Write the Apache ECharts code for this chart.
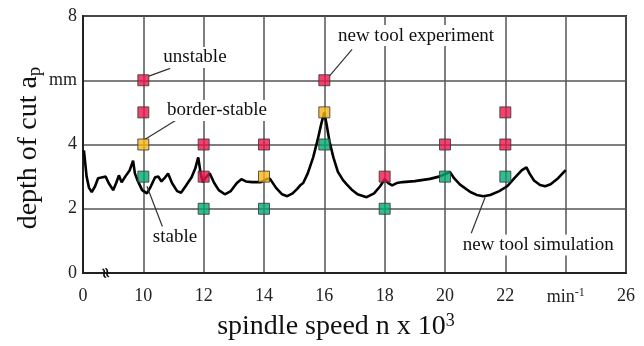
<!DOCTYPE html>
<html><head><meta charset="utf-8">
<script src="https://cdn.jsdelivr.net/npm/echarts@6/dist/echarts.min.js"></script>
<style>html,body{margin:0;padding:0;background:#fff}#c{width:644px;height:346px}</style>
</head><body><div id="c"></div>
<script>
// x axis: position 8 is labelled "0" (axis break), 24 labelled "min^-1"
const xTickLabels = {8:'0',10:'10',12:'12',14:'14',16:'16',18:'18',20:'20',22:'22',24:'MIN',26:'26'};
const yTickLabels = {0:'0',2:'2',4:'4',6:'mm',8:'8'};

const unstablePts = [[10,6],[10,5],[12,4],[12,3],[14,4],[16,6],[18,3],[20,4],[22,5],[22,4]];
const borderPts = [[10,4],[14,3],[16,5]];
const stablePts = [[10,3],[12,2],[14,2],[16,4],[18,2],[20,3],[22,3]];

const simX = [8.03,8.12,8.2,8.29,8.4,8.5,8.65,8.75,8.85,9.0,9.1,9.19,9.28,9.4,9.55,9.66,9.72,9.8,9.96,10.12,10.25,10.39,10.5,10.6,10.7,10.82,10.95,11.12,11.25,11.4,11.6,11.72,11.82,11.9,11.97,12.05,12.2,12.35,12.5,12.7,12.9,13.1,13.25,13.4,13.6,13.9,14.1,14.2,14.4,14.6,14.77,14.95,15.1,15.2,15.3,15.45,15.63,15.78,15.9,16.0,16.08,16.17,16.3,16.45,16.62,16.75,16.9,17.1,17.4,17.65,17.85,18.0,18.12,18.25,18.4,18.6,19.0,19.5,19.8,20.17,20.3,20.5,20.84,21.05,21.27,21.5,21.8,22.06,22.3,22.55,22.7,22.8,22.95,23.15,23.32,23.5,23.75,24.0];
const simY = [3.82,3.0,2.65,2.52,2.7,2.95,2.98,3.0,2.8,2.58,2.8,3.04,2.82,3.0,3.2,3.5,3.1,2.9,2.58,2.48,2.7,2.98,3.0,2.85,2.95,3.1,2.8,2.55,2.5,2.7,2.98,3.25,3.6,3.1,2.83,2.95,3.1,2.8,2.58,2.45,2.55,2.8,2.92,2.85,2.83,2.83,2.93,2.93,2.65,2.45,2.39,2.48,2.62,2.73,2.8,3.1,3.6,4.15,4.65,5.0,4.6,4.1,3.6,3.15,2.89,2.75,2.6,2.45,2.36,2.48,2.7,2.92,2.8,2.73,2.8,2.83,2.86,2.93,3.0,3.14,2.95,2.75,2.52,2.43,2.39,2.43,2.55,2.7,2.95,3.2,3.29,3.1,2.88,2.74,2.7,2.76,2.95,3.2];

// annotations: text, text centre (data), leader from, leader to (data)
const annTexts = ['unstable','border-stable','new tool experiment','stable','new tool simulation'];
const annPos = [[11.71,6.71],[12.44,5.06],[19.04,7.39],[11.05,1.12],[23.09,0.87]];
const annFrom = [[10.16,6.12],[10.06,4.16],[16.16,6.12],[10.12,2.70],[21.33,2.36]];
const annTo = [[10.89,6.37],[11.12,4.78],[16.92,6.96],[10.65,1.40],[20.87,1.24]];

const FONT = '"Liberation Serif","DejaVu Serif",serif';
const chart = echarts.init(document.getElementById('c'), null, {renderer:'canvas'});
const sym = (color) => ({type:'scatter', symbol:'rect', symbolSize:11, z:5,
  itemStyle:{color:color, borderColor:'#333', borderWidth:1}});
chart.setOption({
  animation:false,
  backgroundColor:'#fff',
  grid:{left:83, right:18, top:16, bottom:73, show:true, borderColor:'#222', borderWidth:2, backgroundColor:'transparent'},
  xAxis:{type:'value', min:8, max:26, interval:2,
    axisLine:{show:true, lineStyle:{color:'#222', width:2}}, axisTick:{show:false},
    splitLine:{show:true, lineStyle:{color:'#555', width:1.5}},
    axisLabel:{margin:14, color:'#222', fontFamily:FONT, fontSize:18,
      formatter:(v)=> xTickLabels[v]==='MIN' ? '{a|min}{s|-1}' : (xTickLabels[v] ?? ''),
      rich:{a:{fontFamily:FONT, fontSize:18, color:'#222'}, s:{fontFamily:FONT, fontSize:12, color:'#222', verticalAlign:'top', padding:[0,0,8,0]}}}
  },
  yAxis:{type:'value', min:0, max:8, interval:2,
    axisLine:{show:true, lineStyle:{color:'#222', width:2}}, axisTick:{show:false},
    splitLine:{show:true, lineStyle:{color:'#555', width:1.5}},
    axisLabel:{margin:6, color:'#222', fontFamily:FONT, fontSize:18, formatter:(v)=> yTickLabels[v] ?? ''}
  },
  series:[
    {type:'line', data: simX.map((x,i)=>[x, simY[i]]), showSymbol:false, symbol:'none', z:3,
      lineStyle:{color:'#000', width:2.6}},
    Object.assign(sym('#e8164c'), {data:unstablePts}),
    Object.assign(sym('#f7b516'), {data:borderPts}),
    Object.assign(sym('#04a874'), {data:stablePts})
  ]
});

const px = (p)=> chart.convertToPixel({gridIndex:0}, p);
const graphics = [];
annTexts.forEach((t,i)=>{
  const a = px(annFrom[i]), b = px(annTo[i]), c = px(annPos[i]);
  graphics.push({type:'line', z:4, shape:{x1:a[0],y1:a[1],x2:b[0],y2:b[1]}, style:{stroke:'#333', lineWidth:1.2}});
  graphics.push({type:'text', z:6, x:c[0], y:c[1], style:{text:t, fontFamily:FONT, fontSize:19, fill:'#111',
    align:'center', verticalAlign:'middle', backgroundColor:'#fff', padding:[1,4]}});
});
// axis break mark on x axis
const br = px([8.72, 0]);
graphics.push({type:'text', z:7, x:br[0], y:br[1], rotation:-Math.PI/2.3, style:{text:'≈', fontFamily:'"DejaVu Sans",sans-serif', fontSize:15, fontWeight:'bold', fill:'#111', align:'center', verticalAlign:'middle'}});
// axis names
graphics.push({type:'text', x:29, y:148, rotation:Math.PI/2, style:{text:'{a|depth of cut a}{s|p}', align:'center', verticalAlign:'middle',
  rich:{a:{fontFamily:FONT, fontSize:28, fill:'#111'}, s:{fontFamily:FONT, fontSize:19, fill:'#111', padding:[12,0,0,0]}}}});
graphics.push({type:'text', x:336, y:327, style:{text:'{a|spindle speed n x 10}{s|3}', align:'center', verticalAlign:'middle',
  rich:{a:{fontFamily:FONT, fontSize:28, fill:'#111'}, s:{fontFamily:FONT, fontSize:18, fill:'#111', padding:[0,0,12,0]}}}});
chart.setOption({graphic:graphics});
</script></body></html>
